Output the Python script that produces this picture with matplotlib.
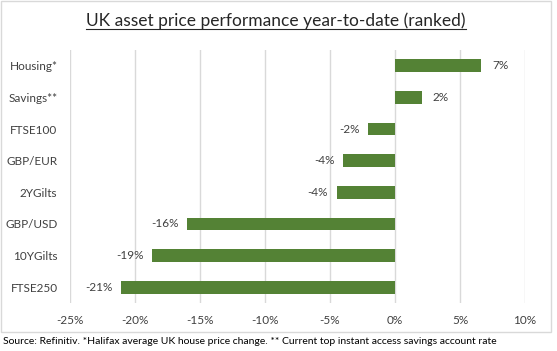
import matplotlib
matplotlib.use("Agg")
import matplotlib.pyplot as plt
from matplotlib.patches import Rectangle
from matplotlib.lines import Line2D

categories = ["Housing*", "Savings**", "FTSE100", "GBP/EUR", "2YGilts", "GBP/USD", "10YGilts", "FTSE250"]
values = [6.6, 2.05, -2.05, -4.0, -4.5, -16.0, -18.7, -21.1]
xticks = [-25, -20, -15, -10, -5, 0, 5, 10]
title = "UK asset price performance year-to-date (ranked)"
source = "Source: Refinitiv. *Halifax average UK house price change. ** Current top instant access savings account rate"

plt.rcParams['font.family'] = ['Lato', 'DejaVu Sans']
W, H = 557, 351
fig = plt.figure(figsize=(W/100, H/100), dpi=100)

def fx(px): return px / W
def fy(py): return 1 - py / H

# chart border
fig.patches.append(Rectangle((fx(1), fy(332)), fx(551) - fx(1), fy(1) - fy(332),
                             transform=fig.transFigure, fill=False, edgecolor="#D9D9D9", lw=1))

ax = fig.add_axes([fx(70), fy(303), fx(525) - fx(70), fy(50) - fy(303)])
y = list(range(len(categories)))
ax.barh(y, values, height=0.4, color="#548235", zorder=3)
ax.set_xlim(-25, 10)
ax.set_ylim(len(categories) - 0.5, -0.5)
ax.set_yticks(y)
ax.set_yticklabels(categories, fontsize=8.5, color="#404040")
ax.set_xticks(xticks)
ax.set_xticklabels([f"{t}%" for t in xticks], fontsize=8.5, color="#404040")
ax.tick_params(axis='both', length=0)
ax.tick_params(axis='y', pad=9)
ax.tick_params(axis='x', pad=9)
for s in ax.spines.values():
    s.set_visible(False)
ax.grid(axis='x', color="#D9D9D9", lw=1, zorder=0)
ax.set_axisbelow(True)

for yi, v in zip(y, values):
    lab = f"{round(v):.0f}%"
    if v >= 0:
        ax.annotate(lab, (v, yi), xytext=(8, 0), textcoords="offset points",
                    ha="left", va="center", fontsize=8.5, color="#404040")
    else:
        ax.annotate(lab, (v, yi), xytext=(-6, 0), textcoords="offset points",
                    ha="right", va="center", fontsize=8.5, color="#404040")

t = fig.text(0.5 * (fx(1) + fx(551)), fy(21), title, ha="center", va="center", fontsize=12.5, color="#262626")
fig.canvas.draw()
bb = t.get_window_extent()
inv = fig.transFigure.inverted()
(x0, y0), (x1, y1) = inv.transform([(bb.x0, bb.y0), (bb.x1, bb.y0)])
fig.add_artist(Line2D([x0, x1], [y0 + 0.0, y0 + 0.0], transform=fig.transFigure, color="#262626", lw=0.8))

fig.text(fx(3), fy(341), source, ha="left", va="center", fontsize=7.5, color="#000000")

fig.savefig("out.png", dpi=100)
